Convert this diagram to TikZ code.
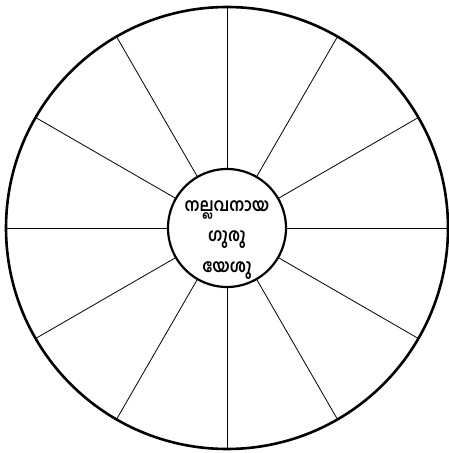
\documentclass[tikz,border=0pt]{standalone}
\usepackage{fontspec}
\newfontfamily\malfont[Script=Malayalam,FakeStretch=0.87]{Hind Kochi}
\usetikzlibrary{calc,positioning}

\begin{document}
\begin{tikzpicture}[
    x=1pt, y=1pt,
    rim/.style={draw=black, line width=2.6pt},
    hub/.style={circle, draw=black, fill=white, line width=2.2pt, minimum size=118pt, inner sep=0pt},
    motto/.style={align=center, inner sep=0pt, font=\malfont\bfseries\fontsize{18}{30.5}\selectfont},
    spoke/.style={draw=black, line width=0.8pt}
  ]
    \useasboundingbox (0,0) rectangle (449,453);
    \coordinate (c) at (227,225);

    % outer wheel and spokes
    \draw[rim] (c) circle (221);
    \foreach \a in {0,30,...,330} {
      \coordinate (tip\a) at ($(c)+(\a:221)$);
      \draw[spoke] (c) -- (tip\a);
    }

    % centre disc
    \node[hub] (centre) at (c) {};
    \node[motto, below=-28pt of centre.center] (name) {നല്ലവനായ\\ഗുരു\\യേശു};
  \end{tikzpicture}
\end{document}
